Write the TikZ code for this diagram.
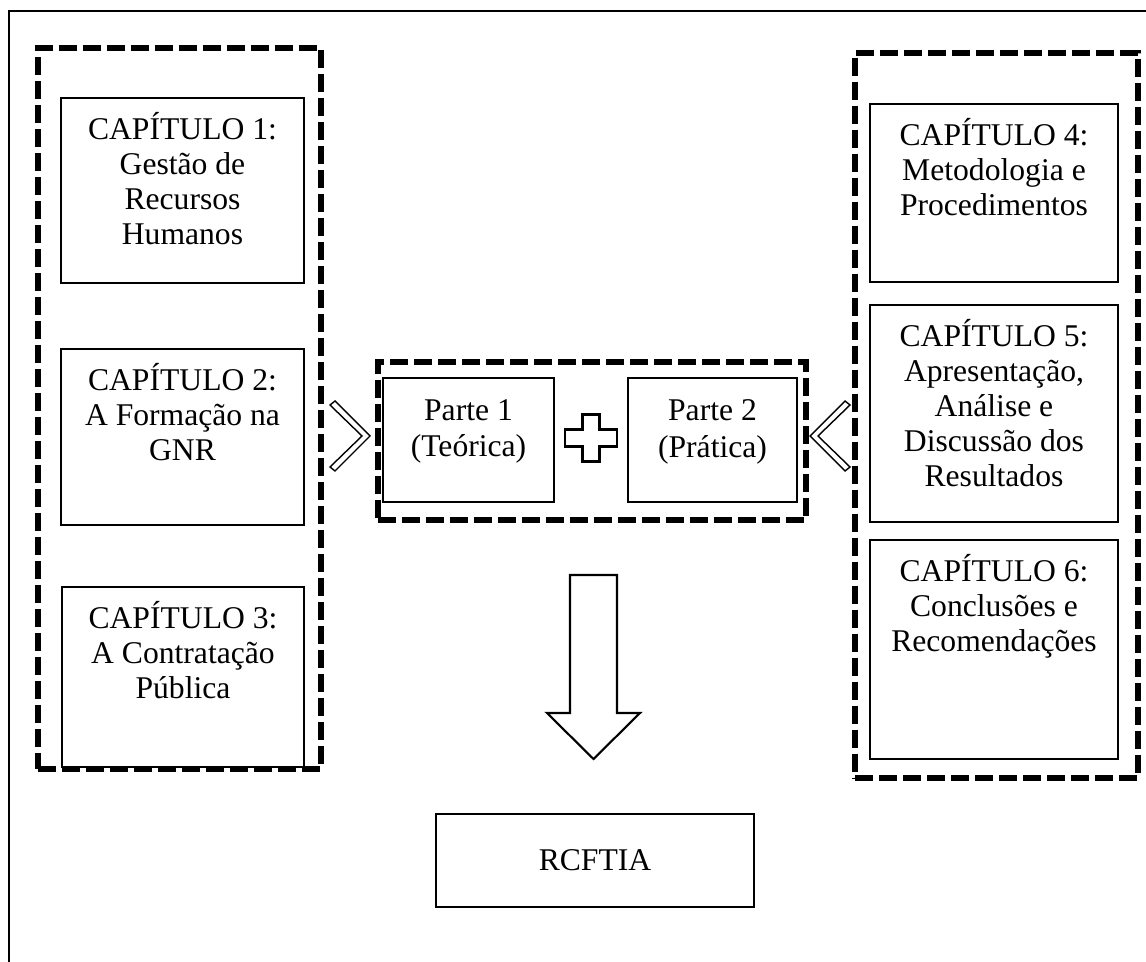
\documentclass[tikz,border=0pt]{standalone}
\usepackage{fontspec}
\setmainfont{Liberation Serif}
\usetikzlibrary{positioning}
\newcommand{\topstrut}{\vphantom{Í}}
\tikzset{
  chapbox/.style={rectangle, draw, line width=1.3pt, inner sep=0pt},
  chaptext/.style={inner sep=0pt, align=center, font=\fontsize{18}{20}\selectfont, execute at begin node=\topstrut},
  groupbox/.style={rectangle, draw, line width=3pt, dash pattern=on 0.36cm off 0.12cm, inner sep=0pt},
  blockarrow/.style={draw, line width=1.2pt, fill=white, line join=miter},
  chevron/.style={draw, line width=0.8pt, fill=white, line join=miter}
}

\begin{document}
\begin{tikzpicture}[x=0.02cm, y=-0.02cm]
    \useasboundingbox (0,0) rectangle (1146,962);
    % Frame
    \draw[line width=1.2pt] (1146,11) -- (9,11) -- (9,962);

    % Groups
    \node[groupbox, minimum width=5.66cm, minimum height=14.42cm] (grpL) at (179.5,408.5) {};
    \node[groupbox, minimum width=5.66cm, minimum height=14.5cm] (grpR) at (996.5,415.5) {};
    \node[groupbox, minimum width=8.56cm, minimum height=3.16cm] (grpM) at (592,441) {};

    % Chapters left
    \node[chapbox, minimum width=4.86cm, minimum height=3.7cm] (c1) at (182.5,190.5) {};
    \node[chapbox, minimum width=4.86cm, minimum height=3.52cm] (c2) at (182.5,437) {};
    \node[chapbox, minimum width=4.84cm, minimum height=3.6cm] (c3) at (183,677) {};
    \node[chaptext, below=0.3cm of c1.north] (t1) {CAPÍTULO 1:\\Gestão de\\Recursos\\Humanos};
    \node[chaptext, below=0.3cm of c2.north] (t2) {CAPÍTULO 2:\\A Formação na\\GNR};
    \node[chaptext, below=0.3cm of c3.north] (t3) {CAPÍTULO 3:\\A Contratação\\Pública};

    % Chapters right
    \node[chapbox, minimum width=4.96cm, minimum height=3.56cm] (c4) at (994,193) {};
    \node[chapbox, minimum width=4.96cm, minimum height=4.34cm] (c5) at (994,413.5) {};
    \node[chapbox, minimum width=4.96cm, minimum height=4.38cm] (c6) at (994,649.5) {};
    \node[chaptext, below=0.3cm of c4.north] (t4) {CAPÍTULO 4:\\Metodologia e\\Procedimentos};
    \node[chaptext, below=0.3cm of c5.north] (t5) {CAPÍTULO 5:\\Apresentação,\\Análise e\\Discussão dos\\Resultados};
    \node[chaptext, below=0.3cm of c6.north] (t6) {CAPÍTULO 6:\\Conclusões e\\Recomendações};

    % Parts
    \node[chapbox, minimum width=3.42cm, minimum height=2.48cm] (p1) at (468.5,440) {};
    \node[chapbox, minimum width=3.38cm, minimum height=2.48cm] (p2) at (712.5,440) {};
    \node[chaptext, below=0.44cm of p1.north] (tp1) {Parte 1\\[1pt](Teórica)};
    \node[chaptext, below=0.44cm of p2.north] (tp2) {Parte 2\\[1pt](Prática)};

    % Result
    \node[chapbox, minimum width=6.36cm, minimum height=1.86cm, font=\fontsize{18}{20}\selectfont] (rc) at (595,860.5) {RCFTIA};

    % Chevrons
    \draw[chevron] (335,401) -- (370,436) -- (335,471) -- (330,467) -- (362,436) -- (330,405) -- cycle;
    \draw[chevron] (845,401) -- (810,436) -- (845,471) -- (850,467) -- (818,436) -- (850,405) -- cycle;

    % Plus
    \coordinate (plusc) at (591,438);
    \draw[blockarrow, shift={(plusc)}] (-8.5,-23.5) -- (8.5,-23.5) -- (8.5,-8.5) -- (26,-8.5) -- (26,8.5) -- (8.5,8.5)
        -- (8.5,23.5) -- (-8.5,23.5) -- (-8.5,8.5) -- (-26,8.5) -- (-26,-8.5) -- (-8.5,-8.5) -- cycle;

    % Down arrow
    \coordinate (downc) at (593.5,575);
    \draw[blockarrow, shift={(downc)}] (-23.5,0) -- (23.5,0) -- (23.5,138) -- (46.5,138) -- (0,184)
        -- (-46.5,138) -- (-23.5,138) -- cycle;
\end{tikzpicture}
\end{document}
